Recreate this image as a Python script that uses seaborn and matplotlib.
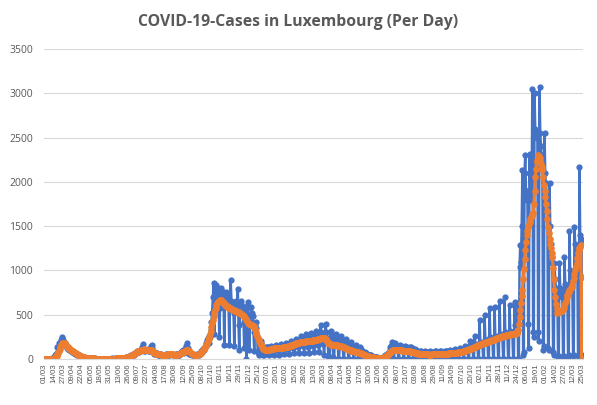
import numpy as np
import pandas as pd
import matplotlib
matplotlib.use("Agg")
import matplotlib.pyplot as plt
import seaborn as sns

# daily new cases, one week (Sun..Sat) per line, 01/03/2020 .. 25/03/2022
cases = [
    0, 1, 0, 0, 0, 1, 1,
    1, 1, 2, 5, 7, 12, 26,
    25, 40, 59, 63, 135, 140, 186,
    160, 180, 220, 240, 248, 210, 190,
    180, 165, 150, 140, 125, 110, 105,
    110, 100, 92, 85, 78, 80, 72,
    65, 60, 58, 55, 50, 48, 44,
    40, 36, 32, 28, 26, 24, 20,
    18, 16, 15, 13, 12, 11, 10,
    10, 9, 8, 7, 7, 6, 5,
    5, 6, 4, 4, 5, 3, 4,
    3, 2, 4, 3, 3, 2, 3,
    3, 4, 2, 3, 4, 5, 3,
    4, 5, 3, 5, 6, 4, 5,
    5, 6, 5, 7, 6, 7, 8,
    6, 8, 7, 9, 10, 12, 11,
    10, 14, 18, 16, 22, 26, 30,
    24, 32, 40, 38, 50, 56, 60,
    50, 66, 72, 78, 86, 90, 92,
    80, 95, 105, 120, 140, 168, 110,
    90, 85, 100, 105, 98, 110, 95,
    85, 110, 150, 160, 120, 90, 75,
    60, 58, 70, 65, 55, 50, 48,
    45, 52, 55, 50, 48, 42, 40,
    38, 45, 50, 55, 52, 58, 50,
    48, 60, 62, 58, 55, 50, 45,
    40, 50, 45, 52, 55, 60, 48,
    45, 60, 75, 80, 90, 100, 85,
    70, 100, 130, 150, 185, 120, 90,
    60, 55, 60, 58, 50, 52, 45,
    38, 50, 45, 48, 55, 60, 52,
    45, 60, 75, 85, 100, 110, 120,
    100, 130, 160, 180, 210, 240, 260,
    180, 250, 330, 420, 520, 700, 860,
    280, 560, 760, 835, 700, 800, 760,
    250, 580, 800, 780, 700, 760, 700,
    160, 620, 720, 760, 680, 740, 620,
    160, 620, 890, 660, 640, 600, 520,
    150, 540, 650, 620, 600, 790, 380,
    100, 500, 620, 660, 600, 560, 420,
    120, 480, 560, 0, 600, 640, 420,
    100, 420, 500, 590, 520, 480, 300,
    90, 380, 420, 350, 250, 80, 60,
    50, 160, 180, 200, 150, 60, 40,
    40, 100, 130, 120, 140, 130, 90,
    45, 120, 150, 140, 135, 130, 100,
    50, 130, 160, 150, 145, 140, 105,
    50, 135, 165, 150, 150, 140, 100,
    55, 140, 175, 170, 160, 150, 110,
    60, 160, 200, 190, 175, 165, 120,
    65, 180, 230, 215, 200, 185, 130,
    70, 200, 260, 240, 220, 200, 150,
    70, 210, 280, 250, 230, 210, 140,
    70, 210, 290, 260, 230, 210, 150,
    75, 220, 320, 280, 250, 230, 160,
    80, 240, 380, 300, 270, 250, 170,
    40, 220, 390, 300, 240, 180, 30,
    0, 20, 280, 320, 260, 220, 20,
    0, 230, 280, 240, 210, 190, 0,
    0, 200, 260, 230, 200, 170, 0,
    0, 180, 230, 200, 170, 150, 0,
    0, 150, 190, 160, 130, 110, 0,
    0, 120, 160, 130, 110, 90, 0,
    0, 100, 130, 110, 90, 70, 0,
    0, 70, 80, 70, 55, 45, 0,
    0, 40, 45, 40, 30, 25, 0,
    0, 25, 25, 20, 18, 15, 0,
    0, 15, 15, 12, 15, 20, 0,
    0, 25, 40, 50, 60, 70, 0,
    0, 100, 130, 150, 190, 160, 0,
    0, 120, 180, 160, 150, 130, 0,
    0, 130, 160, 150, 130, 120, 0,
    0, 120, 150, 140, 130, 110, 0,
    0, 110, 140, 130, 120, 100, 0,
    0, 90, 110, 100, 90, 80, 0,
    0, 80, 95, 90, 80, 70, 0,
    0, 75, 90, 80, 75, 60, 0,
    0, 70, 85, 80, 70, 60, 0,
    0, 75, 90, 85, 75, 65, 0,
    0, 80, 90, 90, 80, 70, 0,
    0, 80, 95, 90, 85, 75, 0,
    0, 85, 100, 95, 85, 80, 0,
    0, 90, 110, 100, 95, 85, 0,
    0, 100, 120, 115, 105, 95, 0,
    0, 120, 150, 140, 125, 110, 0,
    0, 150, 200, 180, 160, 140, 0,
    0, 260, 170, 160, 150, 140, 0,
    0, 440, 190, 180, 170, 160, 0,
    0, 500, 220, 210, 200, 190, 0,
    0, 575, 250, 230, 220, 210, 0,
    0, 590, 260, 250, 240, 230, 0,
    0, 660, 280, 270, 260, 250, 0,
    0, 700, 300, 280, 270, 260, 0,
    0, 610, 320, 300, 290, 280, 0,
    0, 640, 380, 400, 450, 600, 0,
    0, 1040, 1290, 1100, 1500, 2130, 40,
    80, 2100, 2300, 1900, 1800, 1900, 400,
    120, 2320, 1900, 1800, 2000, 3050, 300,
    250, 3000, 2600, 2550, 2500, 2550, 300,
    200, 3070, 2550, 2400, 2300, 2200, 100,
    150, 2550, 2100, 1990, 1800, 1700, 120,
    100, 1990, 1500, 1300, 1150, 1080, 80,
    40, 1080, 900, 800, 750, 700, 20,
    30, 1080, 800, 750, 720, 700, 20,
    30, 1150, 850, 800, 780, 760, 20,
    40, 1450, 1000, 950, 900, 880, 30,
    40, 1490, 1300, 1200, 1150, 1100, 30,
    40, 2170, 1400, 1350, 1300, 50,
]

# smoothed (orange) series, same layout
smoothed = [
    0, 0, 0, 0, 0, 0, 0,
    0, 1, 1, 2, 2, 4, 7,
    12, 18, 26, 34, 52, 70, 92,
    112, 132, 155, 170, 178, 178, 176,
    175, 170, 160, 150, 140, 130, 120,
    115, 110, 100, 95, 90, 85, 80,
    75, 70, 64, 58, 52, 47, 42,
    38, 34, 30, 27, 24, 22, 20,
    18, 16, 15, 13, 12, 11, 10,
    9, 8, 8, 7, 7, 6, 6,
    5, 5, 5, 4, 4, 4, 4,
    3, 3, 3, 3, 3, 3, 3,
    3, 3, 3, 3, 3, 4, 4,
    4, 4, 4, 5, 5, 5, 5,
    5, 5, 6, 6, 6, 6, 7,
    7, 7, 8, 8, 9, 10, 11,
    12, 14, 16, 18, 20, 22, 25,
    28, 32, 36, 40, 45, 50, 55,
    60, 65, 70, 75, 80, 85, 88,
    90, 94, 98, 100, 102, 105, 108,
    106, 104, 102, 100, 99, 100, 102,
    104, 106, 104, 98, 90, 82, 74,
    68, 64, 60, 58, 56, 55, 54,
    53, 52, 50, 48, 46, 45, 44,
    44, 45, 46, 48, 50, 52, 54,
    55, 56, 57, 56, 55, 53, 50,
    48, 47, 46, 48, 50, 52, 55,
    58, 62, 66, 70, 74, 78, 82,
    84, 88, 92, 96, 100, 98, 94,
    88, 80, 72, 64, 58, 54, 50,
    46, 45, 45, 46, 47, 49, 52,
    56, 60, 66, 74, 84, 96, 110,
    122, 134, 146, 160, 180, 200, 225,
    250, 280, 315, 360, 405, 440, 480,
    515, 550, 580, 610, 630, 645, 655,
    660, 664, 665, 662, 655, 645, 635,
    625, 615, 605, 598, 592, 588, 585,
    580, 575, 570, 566, 562, 558, 554,
    550, 546, 542, 538, 534, 530, 525,
    520, 515, 510, 505, 500, 495, 488,
    478, 466, 452, 438, 424, 410, 400,
    395, 392, 388, 384, 380, 375, 368,
    355, 335, 310, 285, 260, 240, 220,
    200, 185, 170, 155, 140, 128, 118,
    110, 105, 102, 100, 100, 102, 105,
    106, 108, 110, 112, 114, 116, 118,
    120, 121, 122, 123, 124, 125, 126,
    126, 127, 127, 128, 128, 129, 130,
    131, 132, 134, 136, 138, 140, 142,
    145, 148, 151, 154, 157, 160, 163,
    166, 169, 172, 175, 178, 181, 184,
    186, 188, 190, 192, 193, 194, 195,
    196, 197, 198, 199, 200, 200, 200,
    200, 201, 202, 204, 206, 208, 210,
    212, 214, 216, 218, 220, 222, 225,
    228, 230, 232, 234, 235, 236, 236,
    235, 232, 226, 218, 208, 196, 185,
    176, 170, 166, 163, 161, 160, 160,
    162, 160, 158, 156, 154, 152, 150,
    148, 146, 144, 142, 140, 137, 134,
    131, 128, 125, 122, 118, 114, 110,
    106, 102, 98, 95, 92, 90, 88,
    86, 84, 82, 80, 78, 76, 74,
    72, 70, 67, 64, 60, 56, 52,
    48, 45, 42, 39, 36, 33, 30,
    28, 26, 24, 22, 20, 18, 16,
    15, 14, 13, 12, 11, 10, 10,
    9, 9, 9, 10, 11, 13, 15,
    18, 22, 27, 33, 40, 48, 56,
    64, 72, 80, 86, 92, 96, 100,
    102, 104, 105, 105, 104, 103, 102,
    100, 99, 98, 97, 96, 95, 94,
    93, 92, 91, 90, 89, 88, 87,
    86, 85, 84, 82, 80, 78, 76,
    74, 72, 70, 68, 66, 64, 62,
    60, 59, 58, 57, 56, 55, 54,
    54, 53, 53, 52, 52, 51, 51,
    50, 50, 50, 50, 51, 51, 52,
    52, 53, 53, 54, 54, 55, 55,
    56, 56, 57, 57, 58, 58, 59,
    59, 60, 60, 61, 61, 62, 62,
    63, 63, 64, 64, 65, 66, 67,
    68, 69, 70, 71, 72, 73, 74,
    75, 76, 78, 80, 82, 84, 86,
    88, 90, 93, 96, 99, 102, 105,
    108, 111, 114, 117, 120, 123, 126,
    130, 134, 138, 142, 146, 150, 154,
    158, 161, 164, 167, 170, 172, 175,
    178, 181, 184, 187, 190, 193, 196,
    199, 202, 205, 208, 211, 214, 217,
    220, 223, 226, 229, 232, 235, 238,
    241, 244, 247, 250, 253, 256, 258,
    260, 262, 264, 266, 268, 270, 272,
    274, 276, 278, 280, 282, 284, 286,
    284, 286, 288, 289, 290, 292, 330,
    400, 470, 550, 630, 710, 780, 900,
    1020, 1130, 1230, 1320, 1400, 1450, 1490,
    1520, 1550, 1580, 1600, 1620, 1640, 1650,
    1750, 1900, 2050, 2150, 2220, 2250, 2300,
    2290, 2270, 2240, 2200, 2170, 2130, 2050,
    1970, 1900, 1830, 1750, 1670, 1580, 1490,
    1420, 1360, 1300, 1250, 1200, 1150, 1030,
    900, 780, 700, 620, 560, 520, 525,
    530, 535, 540, 542, 545, 550, 560,
    580, 605, 630, 660, 700, 720, 740,
    760, 775, 790, 800, 810, 840, 880,
    920, 960, 1000, 1040, 1080, 1140, 1200,
    1230, 1250, 1265, 1290, 0, 925,
]

# category labels shown on the x axis (every 13th day)
tick_labels = [
    "01/03", "14/03", "27/03", "09/04", "22/04", "05/05", "18/05", "31/05",
    "13/06", "26/06", "09/07", "22/07", "04/08", "17/08", "30/08", "12/09",
    "25/09", "08/10", "21/10", "03/11", "16/11", "29/11", "12/12", "25/12",
    "07/01", "20/01", "02/02", "15/02", "28/02", "13/03", "26/03", "08/04",
    "21/04", "04/05", "17/05", "30/05", "12/06", "25/06", "08/07", "21/07",
    "03/08", "16/08", "29/08", "11/09", "24/09", "07/10", "20/10", "02/11",
    "15/11", "28/11", "11/12", "24/12", "06/01", "19/01", "01/02", "14/02",
    "27/02", "12/03", "25/03",
]

df = pd.DataFrame({"day": np.arange(len(cases)), "cases": cases, "smoothed": smoothed})

sns.set_style("white")
plt.rcParams["font.family"] = ["Open Sans", "DejaVu Sans"]

grey = "#595959"
fig = plt.figure(figsize=(5.97, 4.05), dpi=100)
ax = fig.add_axes([0.074, 0.1136, 0.902, 0.7654])

sns.lineplot(data=df, x="day", y="cases", ax=ax, color="#4472C4", linewidth=1.8,
             marker="o", markersize=4.5, markeredgewidth=0)
sns.lineplot(data=df, x="day", y="smoothed", ax=ax, color="#ED7D31", linewidth=2.2,
             marker="o", markersize=4.8, markeredgewidth=0)

ax.set_xlim(-0.5, len(cases) - 0.5)
ax.set_ylim(0, 3500)
ax.set_yticks(range(0, 3501, 500))
ax.set_xticks(np.arange(0, len(cases), 13))
ax.set_xticklabels(tick_labels, rotation=90, fontsize=5.7, family=["Liberation Sans", "DejaVu Sans"])
ax.tick_params(axis="both", length=0, labelcolor=grey)
ax.tick_params(axis="y", labelsize=7.5, pad=8)
ax.tick_params(axis="x", pad=3)
ax.grid(axis="y", color="#d9d9d9", linewidth=0.8)
ax.set_axisbelow(True)
ax.set_xlabel("")
ax.set_ylabel("")
sns.despine(ax=ax, left=True, top=True, right=True)
ax.spines["bottom"].set_color("#d9d9d9")
ax.spines["bottom"].set_linewidth(0.8)

fig.text(0.5, 0.946, "COVID-19-Cases in Luxembourg (Per Day)", ha="center", va="center",
         fontsize=11.3, fontweight="bold", color=grey)

fig.savefig("out.png", dpi=100)
